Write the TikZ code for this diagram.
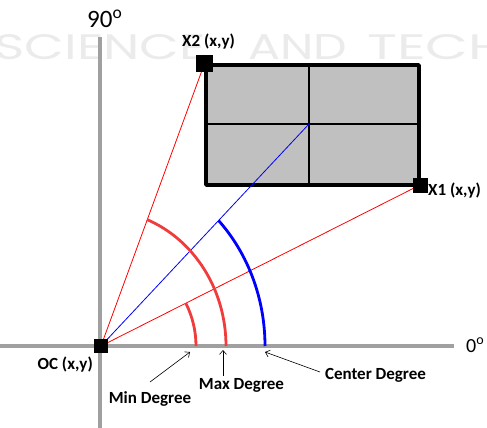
\documentclass[tikz,border=0pt]{standalone}
\usepackage{graphicx}
\usepackage{fontspec}
\setmainfont{Carlito}
\newfontfamily\wmfont{Poppins}
\usetikzlibrary{arrows.meta}
\definecolor{axisgray}{HTML}{A0A0A0}
\definecolor{boxgray}{HTML}{C0C0C0}
\definecolor{arcred}{HTML}{F03C3C}
\definecolor{wmgray}{HTML}{EBEBEB}
\begin{document}
\begin{tikzpicture}[x=1pt,y=-1pt,
  axis/.style={draw=axisgray, line width=4pt},
  ray/.style={line width=0.8pt},
  arcline/.style={line width=2.8pt},
  marker/.style={fill=black, minimum size=#1, inner sep=0pt},
  lbl/.style={font=\fontsize{17}{17}\selectfont\bfseries, inner sep=0pt},
  wm/.style={inner sep=0pt, text=wmgray},
  pointer/.style={draw=black, line width=0.6pt, -{Straight Barb[length=4pt,width=7pt]}}]
\useasboundingbox (0,0) rectangle (487,428);
\begin{scope}
\clip (0,0) rectangle (487,428);
% watermark
\node[wm, anchor=south west] (wm1) at (-6,60) {\resizebox{212pt}{25pt}{\wmfont SCIENCE}};
\node[wm, anchor=south west] (wm2) at (248,60) {\resizebox{99pt}{25pt}{\wmfont AND}};
\node[wm, anchor=south west] (wm3) at (367,60) {\resizebox{140pt}{25pt}{\wmfont TECH}};
\end{scope}
% axes
\coordinate (vtop) at (100,37);
\coordinate (vbot) at (100,428);
\coordinate (hleft) at (0,346);
\coordinate (hright) at (454,346);
\draw[axis] (vtop) -- (vbot);
\draw[axis] (hleft) -- (hright);
% rectangle
\coordinate (bnw) at (206,65);
\coordinate (bse) at (419,185);
\coordinate (mtop) at (309,65);
\coordinate (mbot) at (309,185);
\coordinate (mleft) at (206,124);
\coordinate (mright) at (419,124);
\coordinate (cen) at (309,124);
\draw[fill=boxgray, line width=3.5pt, line join=round] (bnw) rectangle (bse);
\draw[line width=1.4pt] (mtop) -- (mbot);
\draw[line width=1.4pt] (mleft) -- (mright);
% points
\node[marker=14pt] (oc) at (101,346) {};
\node[marker=17pt] (x2) at (204.5,63.5) {};
\node[marker=15pt] (x1) at (420,185) {};
% rays
\draw[ray, red] (oc.center) -- (x2.center);
\draw[ray, red] (oc.center) -- (x1.center);
\draw[ray, blue] (oc.center) -- (cen);
% arcs
\draw[arcline, arcred] (oc.center) ++(95,0) arc[start angle=0, end angle=-26.8, radius=95];
\draw[arcline, arcred] (oc.center) ++(125,0) arc[start angle=0, end angle=-68.4, x radius=125, y radius=136];
\draw[arcline, blue] (oc.center) ++(164,0) arc[start angle=0, end angle=-44.2, x radius=164, y radius=180];
% redraw markers on top
\node[marker=14pt] at (oc) {};
\node[marker=17pt] at (x2) {};
\node[marker=15pt] at (x1) {};
% axis labels
\node[inner sep=0pt, anchor=base west, font=\fontsize{25}{25}\selectfont] (l90) at (87,28) {90\textsuperscript{o}};
\node[inner sep=0pt, anchor=base west, font=\fontsize{20}{20}\selectfont] (l0) at (466,352) {0\textsuperscript{o}};
% point labels
\node[lbl, anchor=base east] (locl) at (93,369) {OC (x,y)};
\node[lbl, anchor=base west] (lx2) at (182,47) {X2 (x,y)};
\node[lbl, anchor=base west] (lx1) at (428,195) {X1 (x,y)};
% degree labels
\node[lbl, anchor=base] (lmin) at (150,403) {Min Degree};
\node[lbl, anchor=base] (lmax) at (241.5,389) {Max Degree};
\node[lbl, anchor=base] (lcen) at (375.5,379) {Center Degree};
% pointers
\coordinate (pmin1) at (150,382);
\coordinate (pmin2) at (190,352);
\coordinate (pmax1) at (223,376);
\coordinate (pmax2) at (223,350);
\coordinate (pcen1) at (320,372);
\coordinate (pcen2) at (265,352);
\draw[pointer] (pmin1) -- (pmin2);
\draw[pointer] (pmax1) -- (pmax2);
\draw[pointer] (pcen1) -- (pcen2);
\end{tikzpicture}
\end{document}
